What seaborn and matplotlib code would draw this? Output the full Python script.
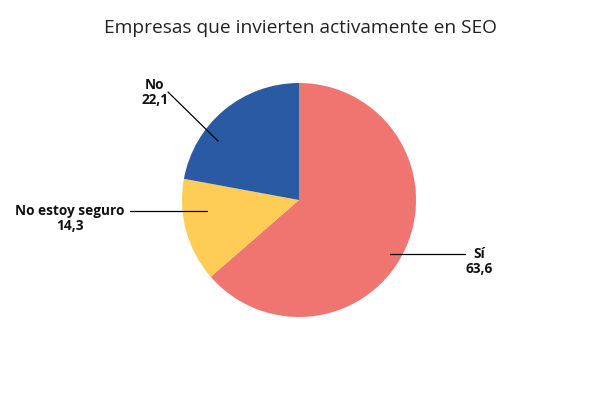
import matplotlib
matplotlib.use("Agg")
import matplotlib.pyplot as plt
import seaborn as sns

# data
labels = ["Sí", "No estoy seguro", "No"]
values = [63.6, 14.3, 22.1]
colors = ["#F07571", "#FFCC55", "#2A5AA3"]

title = "Empresas que invierten activamente en SEO"

sns.set_theme(style="white")
plt.rcParams["font.family"] = ["Open Sans", "DejaVu Sans"]

W, H = 600, 400
fig = plt.figure(figsize=(6, 4), dpi=100)
ax = fig.add_axes([0, 0, 1, 1])

cx, cy, r = 299, 200, 117
ax.pie(values, colors=colors, startangle=90, counterclock=False,
       center=(cx, H - cy), radius=r, frame=True,
       wedgeprops=dict(linewidth=0))
ax.set_xlim(0, W)
ax.set_ylim(0, H)
ax.set_aspect("equal")
ax.axis("off")

# label layout (pixel coords: line start, line end, text centre)
layout = {
    "Sí": ((390, 254), (465, 254), (479, 254)),
    "No estoy seguro": ((207, 211), (130, 211), (70, 211)),
    "No": ((218, 141), (168, 92), (155, 85)),
}

for lab, val in zip(labels, values):
    p0, p1, t = layout[lab]
    ax.plot([p0[0], p1[0]], [H - p0[1], H - p1[1]], color="black", lw=0.9)
    ax.text(t[0], H - t[1], lab, ha="center", va="center",
            fontsize=9.8, fontweight="bold", color="#111111")
    ax.text(t[0], H - t[1] - 15, f"{val:.1f}".replace(".", ","),
            ha="center", va="center", fontsize=9.8, fontweight="bold",
            color="#111111")

fig.text(0.5, 1 - 28 / H, title, ha="center", va="center",
         fontsize=13.8, color="#222222")

fig.savefig("out.png", dpi=100)
